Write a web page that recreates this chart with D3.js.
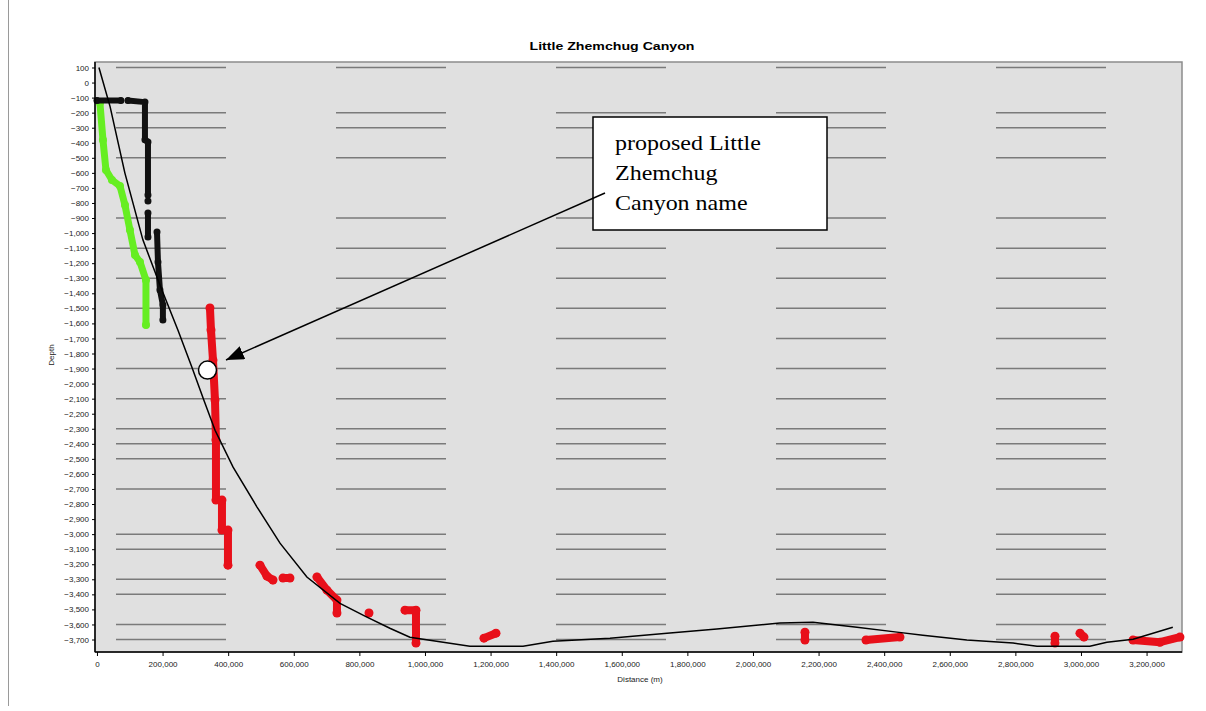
<!DOCTYPE html>
<html>
<head>
<meta charset="utf-8">
<script src="https://cdn.jsdelivr.net/npm/d3@7"></script>
<style>
  body { margin: 0; background: #fff; }
  svg { display: block; }
</style>
</head>
<body>
<svg id="chart" width="1206" height="711"></svg>
<script>
// chart values (distance in m, depth in m)
const chartTitle = "Little Zhemchug Canyon";
const xTitle = "Distance (m)";
const yTitle = "Depth";

const xTicks = [0, 200000, 400000, 600000, 800000, 1000000, 1200000, 1400000, 1600000,
    1800000, 2000000, 2200000, 2400000, 2600000, 2800000, 3000000, 3200000];
const yTicks = d3.range(100, -3800, -100);
// gridlines that show in the picture
const gridY = [100, -200, -300, -500, -900, -1100, -1300, -1500, -1700, -1900, -2100,
    -2300, -2400, -2500, -2700, -3000, -3100, -3300, -3400, -3600, -3700];

// thin black profile line
const profile = [
    [6000, 100], [40000, -160], [85000, -600], [140000, -1045], [192000, -1345],
    [247000, -1645], [290000, -1895], [326000, -2110], [360000, -2310], [415000, -2555],
    [488000, -2820], [558000, -3060], [640000, -3285], [741000, -3460], [817000, -3545],
    [893000, -3625], [954000, -3685], [1076000, -3725], [1137000, -3744], [1299000, -3744],
    [1390000, -3711], [1564000, -3691], [1738000, -3658], [1890000, -3631], [2082000, -3591],
    [2183000, -3585], [2317000, -3618], [2439000, -3651], [2518000, -3671], [2652000, -3704],
    [2793000, -3724], [2866000, -3744], [3027000, -3744], [3079000, -3718], [3159000, -3698],
    [3280000, -3618]
];

// black soundings (null = gap)
const blackPts = [
    [0, -120], [73000, -120], null,
    [94500, -120], [146300, -130], [146300, -380], [155500, -395], [155500, -747], null,
    [155500, -787], null,
    [155500, -867], [155500, -1026], null,
    [183000, -993], [186000, -1192], [192000, -1378], [201000, -1478], [201000, -1578]
];

// green soundings
const greenPts = [
    [9000, -135], [18300, -382], [27400, -581], [45700, -647], [70100, -687],
    [85400, -814], [100600, -980], [115900, -1146], [131100, -1192], [149400, -1312],
    [149400, -1611]
];

// red soundings
const redPts = [
    [344500, -1498], [347600, -1644], [353700, -1844], [359800, -2109], [362800, -2375],
    [362800, -2774], [381100, -2774], [381100, -2973], [399400, -2973], [399400, -3206], null,
    [497000, -3206], [518300, -3279], [536600, -3305], null,
    [567100, -3292], [588400, -3292], null,
    [670700, -3285], [701200, -3372], [731700, -3438], [731700, -3524], null,
    [829300, -3524], null,
    [939000, -3505], [972600, -3505], [972600, -3724], null,
    [1179900, -3691], [1216500, -3658], null,
    [2158500, -3651], [2158500, -3704], null,
    [2344500, -3704], [2448200, -3684], null,
    [2920700, -3678], [2920700, -3724], null,
    [2997000, -3658], [3009100, -3684], null,
    [3158500, -3704], [3240800, -3718], [3301800, -3684]
];

const noteLines = ["proposed Little", "Zhemchug", "Canyon name"];
const notePoint = [337000, -1910];

const svg = d3.select("#chart");
const plot = { left: 95, right: 1182, top: 62, bottom: 652 };
const sans = "Liberation Sans, Arial, sans-serif";

const x = d3.scaleLinear().domain([-6000, 3308000]).range([plot.left, plot.right]);
const y = d3.scaleLinear().domain([136.5, -3783]).range([plot.top, plot.bottom]);

// page margin line
svg.append("line")
    .attr("x1", 8.5).attr("x2", 8.5).attr("y1", 0).attr("y2", 706)
    .attr("stroke", "#9a9a9a").attr("stroke-width", 1);

// plot background
svg.append("rect")
    .attr("x", plot.left).attr("y", plot.top)
    .attr("width", plot.right - plot.left).attr("height", plot.bottom - plot.top)
    .attr("fill", "#e0e0e0")
    .attr("stroke", "#8c8c8c").attr("stroke-width", 1.5);

// dashed gridlines
svg.append("g")
    .selectAll("line")
    .data(gridY)
    .join("line")
    .attr("x1", 116).attr("x2", plot.right - 2)
    .attr("y1", d => y(d)).attr("y2", d => y(d))
    .attr("stroke", "#7a7a7a")
    .attr("stroke-width", 1.5)
    .attr("stroke-dasharray", "110 110");

const line = d3.line()
    .defined(d => d !== null)
    .x(d => x(d[0]))
    .y(d => y(d[1]));

function drawSeries(data, color, width, r) {
    const g = svg.append("g");
    g.append("path")
        .datum(data)
        .attr("d", line)
        .attr("fill", "none")
        .attr("stroke", color)
        .attr("stroke-width", width)
        .attr("stroke-linejoin", "round")
        .attr("stroke-linecap", "round");
    g.selectAll("circle")
        .data(data.filter(d => d !== null))
        .join("circle")
        .attr("cx", d => x(d[0]))
        .attr("cy", d => y(d[1]))
        .attr("r", r)
        .attr("fill", color);
}

drawSeries(greenPts, "#66ee22", 7, 4);
drawSeries(blackPts, "#111", 6, 3.5);
drawSeries(redPts, "#e8101a", 8, 4.5);

// profile line
svg.append("path")
    .datum(profile)
    .attr("d", line)
    .attr("fill", "none")
    .attr("stroke", "#000")
    .attr("stroke-width", 1.5);

// axes
const xAxis = d3.axisBottom(x)
    .tickValues(xTicks)
    .tickSize(4)
    .tickFormat(d3.format(","));
const yAxis = d3.axisLeft(y)
    .tickValues(yTicks)
    .tickSize(3)
    .tickFormat(d3.format(","));

const gx = svg.append("g")
    .attr("transform", `translate(0,${plot.bottom})`)
    .call(xAxis);
const gy = svg.append("g")
    .attr("transform", `translate(${plot.left},0)`)
    .call(yAxis);

[gx, gy].forEach(g => {
    g.select(".domain").attr("stroke", "#000").attr("stroke-width", 1.5);
    g.selectAll(".tick line").attr("stroke", "#000");
    g.selectAll(".tick text")
        .attr("font-family", sans)
        .attr("font-size", 8)
        .attr("fill", "#222");
});
gx.select(".domain").attr("d", `M${plot.left},0H${plot.right}`);
gy.select(".domain").attr("d", `M0,${plot.top}V${plot.bottom}`);
gx.selectAll(".tick text").attr("dy", "1em");

// titles
svg.append("text")
    .attr("x", 612).attr("y", 50)
    .attr("text-anchor", "middle")
    .attr("font-family", sans)
    .attr("font-weight", "bold")
    .attr("font-size", 11)
    .attr("textLength", 165)
    .attr("lengthAdjust", "spacingAndGlyphs")
    .text(chartTitle);

svg.append("text")
    .attr("x", 640).attr("y", 682)
    .attr("text-anchor", "middle")
    .attr("font-family", sans)
    .attr("font-size", 8)
    .attr("fill", "#222")
    .text(xTitle);

svg.append("text")
    .attr("transform", "translate(54,355) rotate(-90)")
    .attr("text-anchor", "middle")
    .attr("font-family", sans)
    .attr("font-size", 8)
    .attr("fill", "#222")
    .text(yTitle);

// annotation box, arrow and marker circle
const box = { x: 593, y: 117, w: 234, h: 113 };
svg.append("rect")
    .attr("x", box.x).attr("y", box.y)
    .attr("width", box.w).attr("height", box.h)
    .attr("fill", "#fff")
    .attr("stroke", "#000").attr("stroke-width", 1.5);

svg.append("g")
    .attr("transform", `translate(${box.x + 22},0) scale(1.2,1)`)
    .append("text")
    .attr("font-family", "Liberation Serif, Times New Roman, serif")
    .attr("font-size", 20)
    .attr("fill", "#000")
    .selectAll("tspan")
    .data(noteLines)
    .join("tspan")
    .attr("x", 0)
    .attr("y", (d, i) => 150 + i * 30)
    .text(d => d);

svg.append("defs").append("marker")
    .attr("id", "arrow")
    .attr("viewBox", "0 0 18 14")
    .attr("refX", 18).attr("refY", 7)
    .attr("markerWidth", 18).attr("markerHeight", 14)
    .attr("markerUnits", "userSpaceOnUse")
    .attr("orient", "auto")
    .append("path")
    .attr("d", "M0,0L18,7L0,14Z")
    .attr("fill", "#000");

svg.append("line")
    .attr("x1", 605).attr("y1", 193)
    .attr("x2", 226).attr("y2", 360)
    .attr("stroke", "#000").attr("stroke-width", 1.5)
    .attr("marker-end", "url(#arrow)");

svg.append("circle")
    .attr("cx", x(notePoint[0])).attr("cy", y(notePoint[1]))
    .attr("r", 9)
    .attr("fill", "#fff")
    .attr("stroke", "#000").attr("stroke-width", 1.5);
</script>
</body>
</html>
